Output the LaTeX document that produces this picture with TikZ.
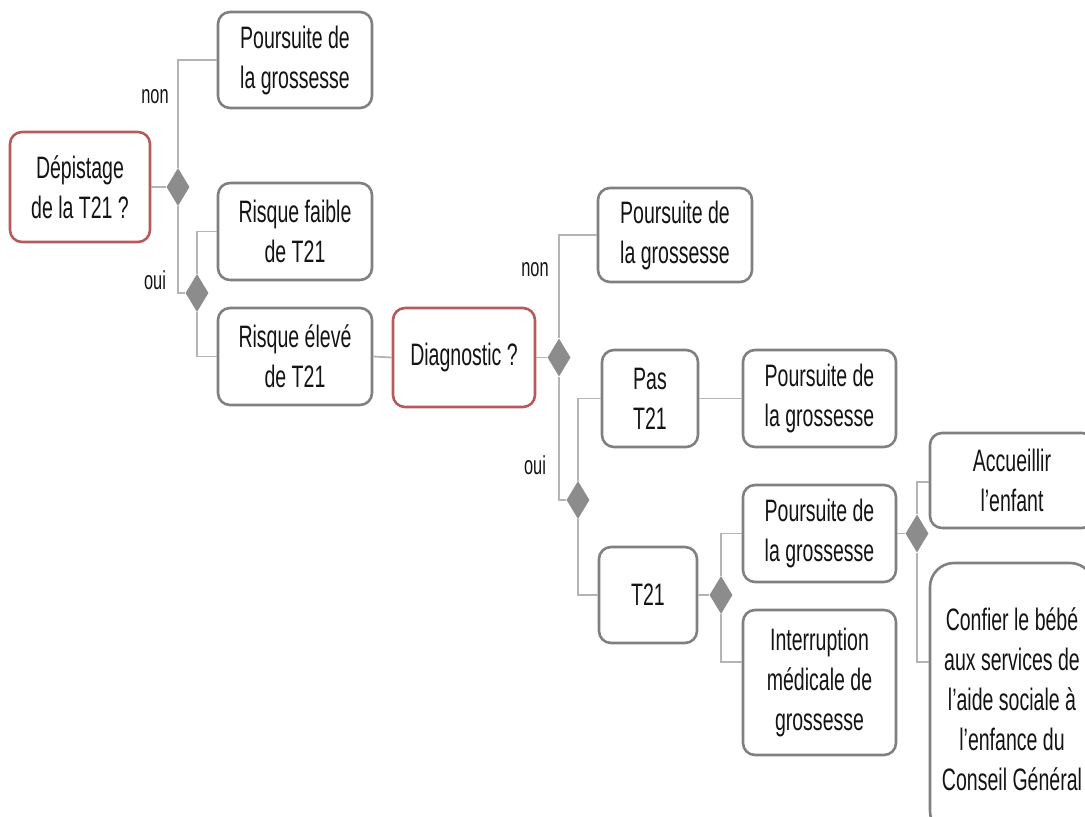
\documentclass[tikz,border=0pt]{standalone}
\usepackage{fontspec}
\usepackage{tikz}
\usetikzlibrary{shapes.geometric,positioning,calc}
\newfontfamily\boxfont[FakeStretch=0.63]{Liberation Sans}
\definecolor{boxgray}{HTML}{808080}
\definecolor{linkgray}{HTML}{B4B4B4}
\definecolor{diagray}{HTML}{8C8C8C}
\definecolor{qred}{HTML}{B85A5C}
\definecolor{txt}{HTML}{141414}

\begin{document}
\begin{tikzpicture}[
  x=1pt,y=-1pt,
  every node/.style={font=\boxfont\fontsize{31}{40}\selectfont,text=txt},
  box/.style={rectangle,rounded corners=12pt,draw=boxgray,fill=white,line width=2.6pt,inner sep=2pt,align=center},
  redbox/.style={box,draw=qred},
  dia/.style={diamond,fill=diagray,draw=none,inner sep=0pt,minimum width=23pt,minimum height=38pt},
  link/.style={draw=linkgray,line width=1.8pt},
  lab/.style={font=\boxfont\fontsize{26}{30}\selectfont}
]
\useasboundingbox (0,0) rectangle (1085,817);
\clip (0,0) rectangle (1085,817);

\node[redbox,minimum width=140pt,minimum height=110pt] (depist) at (80,187) {Dépistage\\de la T21 ?};
\node[box,minimum width=154pt,minimum height=96pt] (pours1) at (295,60) {Poursuite de\\la grossesse};
\node[box,minimum width=154pt,minimum height=97pt] (faible) at (295,231.5) {Risque faible\\de T21};
\node[box,minimum width=154pt,minimum height=97pt] (eleve) at (295,356.5) {Risque élevé\\de T21};
\node[redbox,minimum width=142pt,minimum height=99pt] (diag) at (464,357.5) {Diagnostic ?};
\node[box,minimum width=154pt,minimum height=94pt] (pours2) at (675,235) {Poursuite de\\la grossesse};
\node[box,minimum width=96pt,minimum height=97pt] (past) at (650,398.5) {Pas\\T21};
\node[box,minimum width=153pt,minimum height=97pt] (pours3) at (819.5,398.5) {Poursuite de\\la grossesse};
\node[box,minimum width=98pt,minimum height=96pt] (tvingt) at (648,595) {T21};
\node[box,minimum width=153pt,minimum height=97pt] (pours4) at (819.5,533.5) {Poursuite de\\la grossesse};
\node[box,minimum width=153pt,minimum height=145pt] (interr) at (819.5,682.5) {Interruption\\médicale de\\grossesse};
\node[box,minimum width=164pt,minimum height=95pt] (accueil) at (1012,480.5) {Accueillir\\l’enfant};
\node[box,rounded corners=24pt,minimum width=164pt,minimum height=272pt] (confier) at (1012,699) {Confier le bébé\\aux services de\\l’aide sociale à\\l’enfance du\\Conseil Général};

\node[dia] (d1) at (178,187) {};
\node[dia] (d2) at (197,293) {};
\node[dia] (d3) at (559,357.5) {};
\node[dia] (d4) at (578,500) {};
\node[dia] (d5) at (721,595) {};
\node[dia] (d6) at (917,533.5) {};

\node[lab] (non1) at (155,97) {non};
\node[lab] (oui1) at (155,280) {oui};
\node[lab] (non2) at (535,270) {non};
\node[lab] (oui2) at (535,465) {oui};

\draw[link] (depist.east) -- (d1.west);
\draw[link] (d1.north) |- (pours1.west);
\draw[link] (d1.south) |- (d2.west);
\draw[link] (d2.north) |- (faible.west);
\draw[link] (d2.south) |- (eleve.west);
\draw[link] (eleve.east) -- (diag.west);
\draw[link] (diag.east) -- (d3.west);
\draw[link] (d3.north) |- (pours2.west);
\draw[link] (d3.south) |- (d4.west);
\draw[link] (d4.north) |- (past.west);
\draw[link] (d4.south) |- (tvingt.west);
\draw[link] (past.east) -- (pours3.west);
\draw[link] (tvingt.east) -- (d5.west);
\draw[link] (d5.north) |- (pours4.west);
\draw[link] (d5.south) |- ([yshift=20.5pt]interr.west);
\draw[link] (pours4.east) -- (d6.west);
\draw[link] (d6.north) |- ([yshift=-1.5pt]accueil.west);
\draw[link] (d6.south) |- ([yshift=37pt]confier.west);
\end{tikzpicture}
\end{document}
